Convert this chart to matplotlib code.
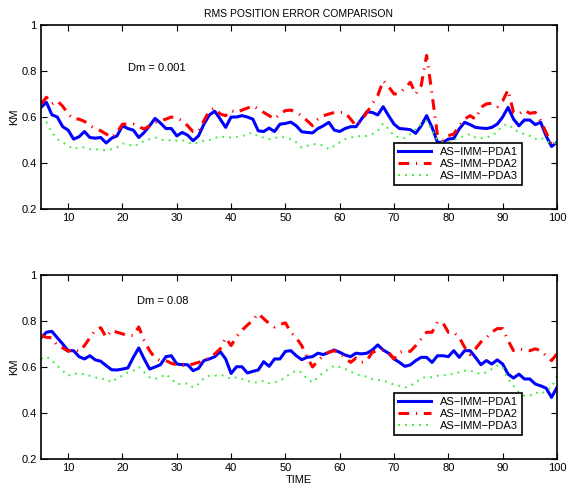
import numpy as np
import matplotlib
matplotlib.use("Agg")
import matplotlib.pyplot as plt
from matplotlib.ticker import FixedLocator, FuncFormatter

# Time axis (samples 5..100)
time = np.arange(5, 101)

# Dm = 0.001
top_pda1 = [0.642, 0.664, 0.61, 0.60, 0.558, 0.543, 0.504, 0.514, 0.537, 0.511,
            0.508, 0.511, 0.487, 0.508, 0.518, 0.562, 0.55, 0.543, 0.511, 0.533,
            0.562, 0.594, 0.574, 0.55, 0.55, 0.518, 0.533, 0.521, 0.497, 0.518,
            0.569, 0.609, 0.625, 0.591, 0.555, 0.60, 0.60, 0.606, 0.60, 0.591,
            0.54, 0.537, 0.552, 0.537, 0.569, 0.572, 0.578, 0.562, 0.536, 0.533,
            0.531, 0.55, 0.562, 0.577, 0.543, 0.537, 0.55, 0.558, 0.558, 0.591,
            0.623, 0.62, 0.609, 0.645, 0.606, 0.569, 0.55, 0.548, 0.545, 0.529,
            0.562, 0.606, 0.555, 0.49, 0.49, 0.504, 0.507, 0.548, 0.577, 0.567,
            0.555, 0.552, 0.55, 0.555, 0.569, 0.60, 0.642, 0.591, 0.562, 0.587,
            0.587, 0.567, 0.577, 0.518, 0.472, 0.49]
top_pda2 = [0.657, 0.686, 0.657, 0.67, 0.647, 0.613, 0.591, 0.591, 0.581, 0.562,
            0.55, 0.54, 0.526, 0.511, 0.533, 0.569, 0.569, 0.569, 0.558, 0.548,
            0.562, 0.577, 0.584, 0.591, 0.60, 0.596, 0.584, 0.562, 0.536, 0.536,
            0.584, 0.628, 0.639, 0.613, 0.606, 0.628, 0.62, 0.63, 0.639, 0.649,
            0.635, 0.62, 0.606, 0.591, 0.613, 0.628, 0.63, 0.62, 0.606, 0.584,
            0.562, 0.591, 0.606, 0.613, 0.62, 0.62, 0.62, 0.591, 0.562, 0.584,
            0.62, 0.657, 0.693, 0.758, 0.732, 0.70, 0.703, 0.726, 0.751, 0.70,
            0.737, 0.868, 0.70, 0.519, 0.50, 0.519, 0.526, 0.562, 0.591, 0.606,
            0.591, 0.642, 0.657, 0.66, 0.645, 0.67, 0.718, 0.62, 0.613, 0.63,
            0.616, 0.62, 0.584, 0.533, 0.482, 0.49]
top_pda3 = [0.60, 0.577, 0.533, 0.504, 0.49, 0.475, 0.46, 0.468, 0.468, 0.46,
            0.46, 0.457, 0.456, 0.46, 0.468, 0.485, 0.482, 0.472, 0.482, 0.497,
            0.504, 0.511, 0.504, 0.497, 0.50, 0.497, 0.50, 0.49, 0.482, 0.49,
            0.497, 0.50, 0.508, 0.518, 0.511, 0.511, 0.514, 0.516, 0.526, 0.533,
            0.514, 0.511, 0.504, 0.508, 0.514, 0.511, 0.504, 0.49, 0.468, 0.475,
            0.482, 0.482, 0.475, 0.46, 0.475, 0.49, 0.504, 0.511, 0.514, 0.518,
            0.518, 0.526, 0.54, 0.572, 0.548, 0.518, 0.511, 0.508, 0.526, 0.548,
            0.569, 0.584, 0.54, 0.50, 0.49, 0.49, 0.50, 0.51, 0.518, 0.526,
            0.511, 0.508, 0.511, 0.518, 0.536, 0.562, 0.569, 0.548, 0.533, 0.526,
            0.518, 0.504, 0.511, 0.497, 0.482, 0.49]

# Dm = 0.08
bot_pda1 = [0.727, 0.751, 0.755, 0.727, 0.70, 0.671, 0.671, 0.645, 0.635, 0.649,
            0.631, 0.625, 0.606, 0.588, 0.587, 0.591, 0.596, 0.642, 0.683, 0.635,
            0.591, 0.60, 0.61, 0.645, 0.649, 0.613, 0.61, 0.61, 0.584, 0.594,
            0.628, 0.635, 0.645, 0.667, 0.635, 0.572, 0.601, 0.601, 0.574, 0.581,
            0.587, 0.623, 0.603, 0.635, 0.635, 0.668, 0.671, 0.649, 0.632, 0.642,
            0.645, 0.66, 0.654, 0.664, 0.674, 0.664, 0.652, 0.645, 0.66, 0.657,
            0.66, 0.674, 0.696, 0.674, 0.66, 0.635, 0.62, 0.603, 0.609, 0.628,
            0.642, 0.642, 0.62, 0.649, 0.649, 0.645, 0.671, 0.642, 0.671, 0.671,
            0.642, 0.61, 0.628, 0.613, 0.631, 0.613, 0.569, 0.552, 0.569, 0.548,
            0.548, 0.526, 0.518, 0.508, 0.468, 0.511]
bot_pda2 = [0.737, 0.729, 0.727, 0.693, 0.683, 0.668, 0.679, 0.667, 0.693, 0.727,
            0.76, 0.771, 0.729, 0.76, 0.751, 0.744, 0.737, 0.737, 0.774, 0.715,
            0.671, 0.639, 0.628, 0.628, 0.616, 0.61, 0.609, 0.606, 0.613, 0.62,
            0.628, 0.639, 0.657, 0.679, 0.727, 0.693, 0.732, 0.76, 0.782, 0.803,
            0.832, 0.81, 0.789, 0.774, 0.785, 0.792, 0.751, 0.727, 0.693, 0.642,
            0.60, 0.628, 0.649, 0.664, 0.671, 0.66, 0.642, 0.62, 0.639, 0.62,
            0.628, 0.664, 0.671, 0.674, 0.664, 0.635, 0.664, 0.671, 0.668, 0.693,
            0.722, 0.751, 0.751, 0.796, 0.792, 0.751, 0.751, 0.729, 0.686, 0.654,
            0.679, 0.709, 0.727, 0.751, 0.767, 0.767, 0.715, 0.671, 0.679, 0.674,
            0.671, 0.679, 0.671, 0.649, 0.628, 0.657]
bot_pda3 = [0.635, 0.645, 0.628, 0.606, 0.584, 0.562, 0.572, 0.569, 0.569, 0.562,
            0.555, 0.548, 0.548, 0.533, 0.552, 0.562, 0.577, 0.584, 0.60, 0.577,
            0.555, 0.548, 0.555, 0.569, 0.548, 0.526, 0.526, 0.529, 0.511, 0.526,
            0.552, 0.562, 0.562, 0.567, 0.558, 0.548, 0.555, 0.548, 0.54, 0.533,
            0.533, 0.54, 0.529, 0.533, 0.54, 0.555, 0.572, 0.584, 0.577, 0.548,
            0.533, 0.555, 0.577, 0.591, 0.606, 0.60, 0.591, 0.581, 0.569, 0.562,
            0.558, 0.548, 0.543, 0.54, 0.533, 0.523, 0.518, 0.511, 0.518, 0.533,
            0.55, 0.558, 0.555, 0.562, 0.562, 0.569, 0.569, 0.577, 0.584, 0.584,
            0.577, 0.569, 0.577, 0.591, 0.606, 0.60, 0.548, 0.518, 0.49, 0.475,
            0.475, 0.49, 0.482, 0.497, 0.511, 0.56]

panels = [("Dm = 0.001", top_pda1, top_pda2, top_pda3, (21, 0.80)),
          ("Dm = 0.08", bot_pda1, bot_pda2, bot_pda3, (22.7, 0.875))]
labels = ["AS\u2212IMM\u2212PDA1", "AS\u2212IMM\u2212PDA2", "AS\u2212IMM\u2212PDA3"]

plt.rcParams['font.family'] = ['Liberation Sans', 'DejaVu Sans']
plt.rcParams['font.size'] = 8

fig = plt.figure(figsize=(5.67, 4.91), dpi=100)
ax_top = fig.add_axes([0.0723, 0.5743, 0.910, 0.3747])
ax_bot = fig.add_axes([0.0723, 0.0652, 0.910, 0.3747])

for ax, (note, s1, s2, s3, note_pos) in zip([ax_top, ax_bot], panels):
    ax.plot(time, s1, color='#0000ff', linewidth=2.2, label=labels[0])
    ax.plot(time, s2, color='#ff0000', linewidth=2.2, dashes=(3.5, 2.2, 0.4, 2.2), label=labels[1])
    ax.plot(time, s3, color='#44ee44', linewidth=1.4, dashes=(1, 2.6), label=labels[2])
    ax.set_xlim(5, 100)
    ax.set_ylim(0.2, 1)
    ax.xaxis.set_major_locator(FixedLocator(range(10, 101, 10)))
    ax.yaxis.set_major_locator(FixedLocator([0.2, 0.4, 0.6, 0.8, 1.0]))
    ax.yaxis.set_major_formatter(FuncFormatter(lambda v, p: "1" if abs(v - 1) < 1e-9 else f"{v:.1f}"))
    ax.tick_params(direction='in', top=True, right=True, length=4, labelsize=8, pad=3)
    for sp in ax.spines.values():
        sp.set_linewidth(1.2)
    ax.set_ylabel('KM', fontsize=8, labelpad=2)
    ax.text(note_pos[0], note_pos[1], note, fontsize=8)
    leg = ax.legend(loc='lower right', bbox_to_anchor=(0.932, 0.13), fancybox=False,
                    edgecolor='black', framealpha=1, fontsize=8, handlelength=3,
                    borderpad=0.35, labelspacing=0.2, handletextpad=0.8, borderaxespad=0)
    leg.get_frame().set_linewidth(1.2)

ax_top.set_title('RMS POSITION ERROR COMPARISON', fontsize=7.5, pad=6)
ax_bot.set_xlabel('TIME', fontsize=8, labelpad=1)

fig.savefig('out.png', dpi=100)
